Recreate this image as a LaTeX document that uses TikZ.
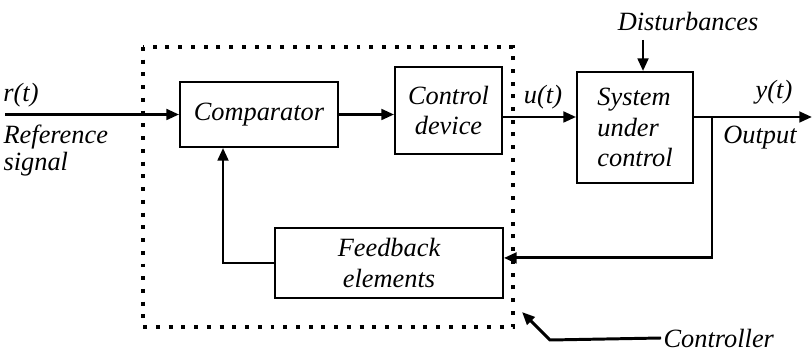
\documentclass[tikz,border=0pt]{standalone}
\usepackage{fontspec}
\setmainfont{Liberation Serif}
\newfontfamily\timesfont{Liberation Serif}
\usetikzlibrary{arrows.meta,positioning}

\begin{document}
\begin{tikzpicture}[x=0.016cm, y=-0.016cm, >={Triangle[length=5.8pt,width=4.8pt]},
    font=\timesfont\itshape\fontsize{12}{14}\selectfont,
    block/.style={draw, line width=0.8pt, inner sep=2pt, align=center},
    tag/.style={inner sep=1pt, align=left},
    sig/.style={->, line width=1.35pt}]
  \useasboundingbox (0,0) rectangle (812,351);

  % controller boundary
  \draw[line width=1.4pt, dash pattern=on 1.8pt off 4pt] (143,47) rectangle (513,327);

  % blocks
  \node[block, minimum width=2.528cm, minimum height=1.04cm] (comp) at (259,114.5) {Comparator};
  \node[block, minimum width=1.712cm, minimum height=1.392cm] (ctrl) at (448.5,110.5) {Control\\device};
  \node[block, minimum width=1.856cm, minimum height=1.776cm, align=left] (plant) at (635,127.5) {System\\under\\control};
  \node[block, minimum width=3.648cm, minimum height=1.12cm] (fb) at (389,263) {Feedback\\elements};

  % signal labels
  \node[tag] (rt) at (21,95) {r(t)};
  \node[tag, anchor=north west, font=\timesfont\itshape\fontsize{12}{12.5}\selectfont] (ref) at (1,122) {Reference\\signal};
  \node[tag] (ut) at (543,97) {u(t)};
  \node[tag] (yt) at (774,92) {y(t)};
  \node[tag] (outp) at (760,138) {Output};
  \node[tag] (dist) at (688,22) {Disturbances};
  \node[tag, anchor=west] (ctl) at (661,338) {Controller};

  \coordinate (in) at (5,114.5);
  \coordinate (uy) at (0,117);
  \coordinate (out) at (812,117);
  \coordinate (tap) at (712,117);
  \coordinate (up) at (223,263);
  \coordinate (dtop) at (643,40);
  \coordinate (bend) at (550,340);
  \coordinate (tip) at (522,312);

  % forward path
  \draw[sig] (in) -- (comp.west);
  \draw[sig] (comp.east) -- (comp.east -| ctrl.west);
  \draw[sig] (ctrl.east |- uy) -- (plant.west |- uy);
  \draw[sig] (plant.east |- uy) -- (out);
  \draw[sig] (dtop) -- (plant.north -| dtop);

  % feedback path
  \draw[sig] (tap) |- ([yshift=2.3pt]fb.east);
  \draw[sig] (fb.west) -| (comp.south -| up);

  \draw[sig] (ctl.west) -- (bend) -- (tip);
\end{tikzpicture}
\end{document}
